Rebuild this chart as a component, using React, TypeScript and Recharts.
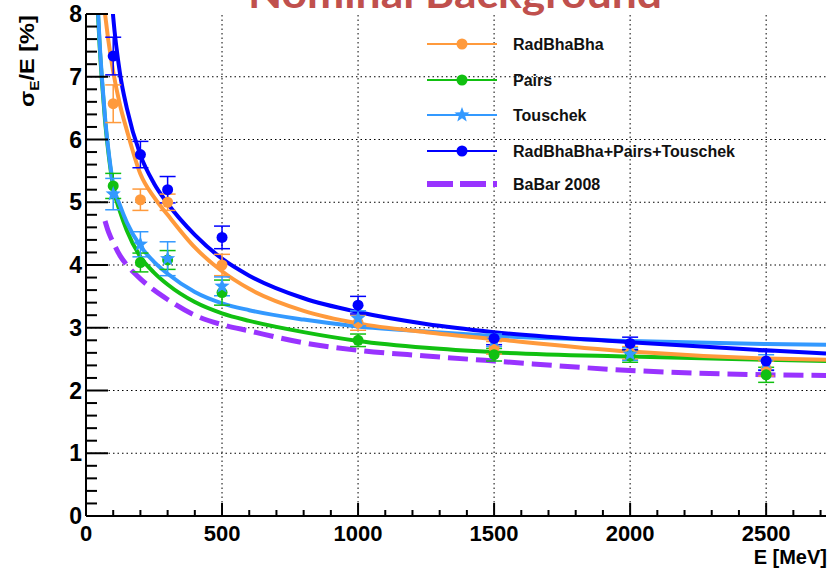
import React from "react";
import {
  ComposedChart,
  Line,
  Scatter,
  ErrorBar,
  XAxis,
  YAxis,
  ReferenceLine,
} from "recharts";

// measured points (E in MeV, sigma_E/E in %)
const pointE = [100, 200, 300, 500, 1000, 1500, 2000, 2500];
const radBhaBha = [6.57, 5.04, 5.0, 4.0, 3.08, 2.68, 2.6, 2.35];
const radBhaBhaErr = [0.3, 0.17, 0.13, 0.17, 0.12, 0.1, 0.1, 0.12];
const pairs = [5.26, 4.04, 4.08, 3.56, 2.8, 2.57, 2.55, 2.25];
const pairsErr = [0.2, 0.15, 0.15, 0.2, 0.1, 0.1, 0.1, 0.12];
const touschek = [5.13, 4.33, 4.1, 3.66, 3.15, 2.8, 2.58, 2.45];
const touschekErr = [0.25, 0.2, 0.27, 0.15, 0.12, 0.1, 0.1, 0.12];
const combined = [7.33, 5.76, 5.2, 4.44, 3.36, 2.83, 2.75, 2.47];
const combinedErr = [0.3, 0.21, 0.21, 0.18, 0.14, 0.1, 0.1, 0.15];

// fitted curves
const fitE = [40, 50, 60, 70, 80, 90, 100, 125, 150, 200, 250, 300, 400, 500, 600, 800, 1000, 1250, 1500, 2000, 2500, 2720];
const radBhaBhaFit = [null, null, null, 8.0, 7.65, 7.35, 7.08, 6.55, 6.15, 5.45, 5.08, 4.8, 4.28, 3.9, 3.62, 3.27, 3.07, 2.93, 2.82, 2.62, 2.51, 2.49];
const pairsFit = [8.35, 7.5, 6.85, 6.3, 5.88, 5.53, 5.24, 4.85, 4.55, 4.13, 3.88, 3.69, 3.41, 3.23, 3.11, 2.93, 2.79, 2.68, 2.61, 2.54, 2.49, 2.47];
const touschekFit = [8.4, 7.55, 6.9, 6.35, 5.92, 5.57, 5.28, 4.95, 4.68, 4.3, 4.05, 3.86, 3.57, 3.39, 3.28, 3.13, 3.02, 2.94, 2.87, 2.79, 2.74, 2.73];
const combinedFit = [null, null, null, null, null, 8.5, 7.95, 7.05, 6.5, 5.75, 5.3, 4.98, 4.48, 4.1, 3.83, 3.47, 3.25, 3.06, 2.93, 2.77, 2.64, 2.59];
const babarFit = [null, null, null, 4.7, 4.56, 4.45, 4.36, 4.15, 4.0, 3.78, 3.6, 3.45, 3.2, 3.05, 2.95, 2.76, 2.64, 2.55, 2.47, 2.32, 2.25, 2.24];

const xMajor = [0, 500, 1000, 1500, 2000, 2500];
const yMajor = [0, 1, 2, 3, 4, 5, 6, 7, 8];
const xMax = 2720;

const C_ORANGE = "#ff9a3c";
const C_GREEN = "#11c011";
const C_LIGHT = "#3399ff";
const C_BLUE = "#0000ff";
const C_PURPLE = "#9933ff";

const FONT = "'Liberation Sans', Arial, Helvetica, sans-serif";

const xTicks: number[] = [];
for (let i = 0; i * 100 <= xMax; i++) xTicks.push(i * 100);
const yTicks: number[] = [];
for (let i = 0; i <= 40; i++) yTicks.push(Math.round(i * 20) / 100);

const toPoints = (vals: number[], errs: number[]) =>
  pointE.map((E, i) => ({ E, v: vals[i], err: errs[i] }));
const toCurve = (vals: (number | null)[]) =>
  fitE.map((E, i) => ({ E, v: vals[i] }));

const isMajorX = (v: number) => v % 500 === 0;
const isMajorY = (v: number) => Math.abs(v - Math.round(v)) < 1e-6;

const BottomTick = (props: any) => {
  const { x, y, payload } = props;
  const major = isMajorX(payload.value);
  return (
    <g>
      <line x1={x} x2={x} y1={y} y2={y - (major ? 13 : 6)} stroke="#000" strokeWidth={2} />
      {major && (
        <text x={x} y={y + 25} textAnchor="middle" fontFamily={FONT} fontWeight="bold" fontSize={22} fill="#000">
          {payload.value}
        </text>
      )}
    </g>
  );
};

const TopTick = (props: any) => {
  const { x, y, payload } = props;
  const major = isMajorX(payload.value);
  return <line x1={x} x2={x} y1={y} y2={y + (major ? 13 : 6)} stroke="#000" strokeWidth={2} />;
};

const LeftTick = (props: any) => {
  const { x, y, payload } = props;
  const major = isMajorY(payload.value);
  return (
    <g>
      <line x1={x} x2={x + (major ? 22 : 11)} y1={y} y2={y} stroke="#000" strokeWidth={2} />
      {major && (
        <text x={x - 4} y={y + 8} textAnchor="end" fontFamily={FONT} fontWeight="bold" fontSize={23} fill="#000">
          {Math.round(payload.value)}
        </text>
      )}
    </g>
  );
};

const RightTick = (props: any) => {
  const { x, y, payload } = props;
  const major = isMajorY(payload.value);
  return <line x1={x} x2={x - (major ? 20 : 10)} y1={y} y2={y} stroke="#000" strokeWidth={2} />;
};

const starPath = (cx: number, cy: number, r: number) => {
  let d = "";
  for (let i = 0; i < 10; i++) {
    const rr = i % 2 === 0 ? r : r * 0.42;
    const a = (Math.PI / 5) * i - Math.PI / 2;
    d += (i === 0 ? "M" : "L") + (cx + rr * Math.cos(a)).toFixed(2) + "," + (cy + rr * Math.sin(a)).toFixed(2);
  }
  return d + "Z";
};

const dot = (color: string) => (p: any) => <circle cx={p.cx} cy={p.cy} r={5.5} fill={color} />;
const star = (color: string) => (p: any) => <path d={starPath(p.cx, p.cy, 8)} fill={color} />;

const legendItems = [
  { name: "RadBhaBha", color: C_ORANGE, marker: "dot" },
  { name: "Pairs", color: C_GREEN, marker: "dot" },
  { name: "Touschek", color: C_LIGHT, marker: "star" },
  { name: "RadBhaBha+Pairs+Touschek", color: C_BLUE, marker: "dot" },
  { name: "BaBar 2008", color: C_PURPLE, marker: "dash" },
];
const legendRows = [44, 80, 115, 151, 184];

export default function App() {
  const axisLine = { stroke: "#000", strokeWidth: 2 };
  return (
    <div style={{ position: "absolute", left: 0, top: 0, width: 829, height: 569, background: "#fff" }}>
      <ComposedChart width={829} height={569} margin={{ top: 14, right: 3, bottom: 0, left: 0 }}>
        <XAxis
          dataKey="E"
          type="number"
          domain={[0, xMax]}
          allowDataOverflow
          ticks={xTicks}
          interval={0}
          tickSize={0}
          tickMargin={0}
          tick={<BottomTick />}
          axisLine={axisLine}
          height={53}
        />
        <XAxis
          xAxisId="top"
          orientation="top"
          type="number"
          domain={[0, xMax]}
          allowDataOverflow
          ticks={xTicks}
          interval={0}
          tickSize={0}
          tickMargin={0}
          tick={<TopTick />}
          axisLine={axisLine}
          height={0}
        />
        <YAxis
          type="number"
          domain={[0, 8]}
          allowDataOverflow
          ticks={yTicks}
          interval={0}
          tickSize={0}
          tickMargin={0}
          tick={<LeftTick />}
          axisLine={axisLine}
          width={86}
        />
        <YAxis
          yAxisId="right"
          orientation="right"
          type="number"
          domain={[0, 8]}
          allowDataOverflow
          ticks={yTicks}
          interval={0}
          tickSize={0}
          tickMargin={0}
          tick={<RightTick />}
          axisLine={axisLine}
          width={0}
        />
        {xMajor.slice(1).map((v) => (
          <ReferenceLine key={"gx" + v} x={v} stroke="#000" strokeWidth={1} strokeDasharray="1.5 3" />
        ))}
        {yMajor.slice(1, -1).map((v) => (
          <ReferenceLine key={"gy" + v} y={v} stroke="#000" strokeWidth={1} strokeDasharray="1.5 3" />
        ))}

        <Line data={toCurve(babarFit)} dataKey="v" type="monotone" stroke={C_PURPLE} strokeWidth={5} strokeDasharray="20 8" dot={false} isAnimationActive={false} />
        <Line data={toCurve(pairsFit)} dataKey="v" type="monotone" stroke={C_GREEN} strokeWidth={4} dot={false} isAnimationActive={false} />
        <Line data={toCurve(touschekFit)} dataKey="v" type="monotone" stroke={C_LIGHT} strokeWidth={4} dot={false} isAnimationActive={false} />
        <Line data={toCurve(radBhaBhaFit)} dataKey="v" type="monotone" stroke={C_ORANGE} strokeWidth={4} dot={false} isAnimationActive={false} />
        <Line data={toCurve(combinedFit)} dataKey="v" type="monotone" stroke={C_BLUE} strokeWidth={4} dot={false} isAnimationActive={false} />

        <Scatter data={toPoints(radBhaBha, radBhaBhaErr)} dataKey="v" shape={dot(C_ORANGE)} isAnimationActive={false}>
          <ErrorBar dataKey="err" direction="y" width={8} stroke={C_ORANGE} strokeWidth={1.5} />
        </Scatter>
        <Scatter data={toPoints(pairs, pairsErr)} dataKey="v" shape={dot(C_GREEN)} isAnimationActive={false}>
          <ErrorBar dataKey="err" direction="y" width={8} stroke={C_GREEN} strokeWidth={1.5} />
        </Scatter>
        <Scatter data={toPoints(touschek, touschekErr)} dataKey="v" shape={star(C_LIGHT)} isAnimationActive={false}>
          <ErrorBar dataKey="err" direction="y" width={8} stroke={C_LIGHT} strokeWidth={1.5} />
        </Scatter>
        <Scatter data={toPoints(combined, combinedErr)} dataKey="v" shape={dot(C_BLUE)} isAnimationActive={false}>
          <ErrorBar dataKey="err" direction="y" width={8} stroke={C_BLUE} strokeWidth={1.5} />
        </Scatter>
      </ComposedChart>

      <svg width={829} height={569} style={{ position: "absolute", left: 0, top: 0, pointerEvents: "none" }}>
        <text x={455} y={8} textAnchor="middle" fontFamily="Lato, 'Open Sans', sans-serif" fontWeight="bold" fontSize={40} fill="#c0504d" textLength={414} lengthAdjust="spacingAndGlyphs">
          Nominal Background
        </text>
        <text transform="translate(34,107) rotate(-90)" fontFamily={FONT} fontWeight="bold" fontSize={20} fill="#000" textLength={92} lengthAdjust="spacingAndGlyphs">
          σ<tspan fontSize={13} dy={5}>E</tspan>
          <tspan dy={-5}>/E [%]</tspan>
        </text>
        <text x={827} y={564} textAnchor="end" fontFamily={FONT} fontWeight="bold" fontSize={20} fill="#000">
          E [MeV]
        </text>
        {legendItems.map((it, i) => {
          const y = legendRows[i];
          return (
            <g key={it.name}>
              {it.marker === "dash" ? (
                <line x1={427} x2={497} y1={y} y2={y} stroke={it.color} strokeWidth={6} strokeDasharray="26 7" />
              ) : (
                <line x1={427} x2={497} y1={y} y2={y} stroke={it.color} strokeWidth={2} />
              )}
              {it.marker === "dot" && <circle cx={462} cy={y} r={5.5} fill={it.color} />}
              {it.marker === "star" && <path d={starPath(462, y, 8)} fill={it.color} />}
              <text x={513} y={y + 6} fontFamily={FONT} fontWeight="bold" fontSize={16} fill="#111">
                {it.name}
              </text>
            </g>
          );
        })}
      </svg>
    </div>
  );
}
